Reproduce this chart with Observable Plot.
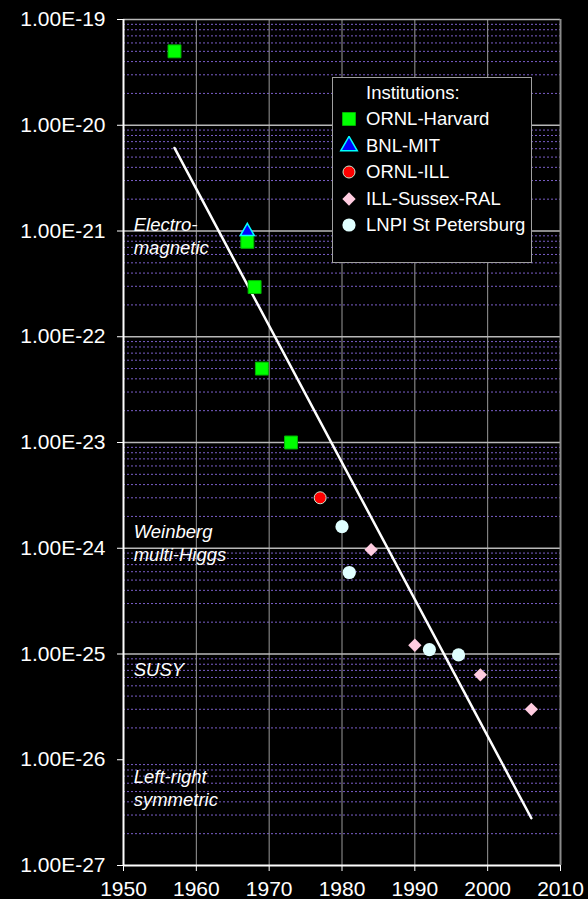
<!DOCTYPE html>
<html><head><meta charset="utf-8">
<script src="https://cdn.jsdelivr.net/npm/d3@7"></script>
<script src="https://cdn.jsdelivr.net/npm/@observablehq/plot@0.6"></script>
<style>
html,body{margin:0;padding:0;background:#000;}
#wrap{position:relative;width:588px;height:899px;background:#000;font-family:"Liberation Sans",Arial,Helvetica,sans-serif;}
#legend{position:absolute;left:332px;top:77px;width:200px;height:186px;border:1.5px solid #a0a0a0;background:#000;box-sizing:border-box;color:#fff;font-size:18.5px;}
#legend .row{position:absolute;left:0;height:26px;line-height:26px;white-space:nowrap;}
#legend .row svg{position:absolute;left:6px;top:3px;}
#legend .row span{position:absolute;left:33px;top:0;}
</style>
</head><body>
<div id="wrap"><div id="chart"></div><div id="legend"></div></div>
<script>
// ---- data ----
const xTicks = [1950, 1960, 1970, 1980, 1990, 2000, 2010];
const yTicks = [1e-19, 1e-20, 1e-21, 1e-22, 1e-23, 1e-24, 1e-25, 1e-26, 1e-27];
const yGridMajor = [1e-19, 1e-20, 1e-21, 1e-22, 1e-23, 1e-24, 1e-25];

const ornlHarvardYears = [1957, 1967, 1968, 1969, 1973];
const ornlHarvardValues = [5.0e-20, 7.9e-22, 2.95e-22, 5.0e-23, 1.0e-23];

const bnlMitYears = [1967];
const bnlMitValues = [9.9e-22];

const ornlIllYears = [1977];
const ornlIllValues = [3.0e-24];

const illSussexYears = [1984, 1990, 1999, 2006];
const illSussexValues = [9.7e-25, 1.21e-25, 6.35e-26, 3.0e-26];

const lnpiYears = [1980, 1981, 1992, 1996];
const lnpiValues = [1.6e-24, 5.9e-25, 1.1e-25, 9.8e-26];

const trendYears = [1957, 2006];
const trendValues = [6.1e-21, 2.8e-27];

const noteTexts = ["Electro-\nmagnetic", "Weinberg\nmulti-Higgs", "SUSY", "Left-right\nsymmetric"];
const noteYears = [1951.4, 1951.4, 1951.4, 1951.4];
const noteValues = [9.1e-22, 1.15e-24, 7.2e-26, 5.55e-27];

const legendTitle = "Institutions:";
const seriesNames = ["ORNL-Harvard", "BNL-MIT", "ORNL-ILL", "ILL-Sussex-RAL", "LNPI St Petersburg"];

// ---- helpers ----
const minorGrid = [];
for (let e = -27; e < -19; e++) for (let k = 2; k <= 9; k++) minorGrid.push(k * Math.pow(10, e));

const diamond = {draw(ctx, size) { const r = Math.sqrt(size) * 0.62625; ctx.moveTo(0, -r); ctx.lineTo(r, 0); ctx.lineTo(0, r); ctx.lineTo(-r, 0); ctx.closePath(); }};

const styles = [
  {symbol: "square", r: 7.3, fill: "#00ff00", stroke: "#00b400", strokeWidth: 1},
  {symbol: "triangle", r: 5.2, fill: "#0000ff", stroke: "#00ffff", strokeWidth: 1.5},
  {symbol: "circle", r: 6, fill: "#ff0000", stroke: "#cfe8cf", strokeWidth: 1},
  {symbol: diamond, r: 6, fill: "#ffcce0", stroke: "none", strokeWidth: 0},
  {symbol: "circle", r: 6.6, fill: "#e0ffff", stroke: "none", strokeWidth: 0}
];
const seriesData = [
  [ornlHarvardYears, ornlHarvardValues],
  [bnlMitYears, bnlMitValues],
  [ornlIllYears, ornlIllValues],
  [illSussexYears, illSussexValues],
  [lnpiYears, lnpiValues]
];
const pts = (ys, vs) => ys.map((y, i) => ({year: y, value: vs[i]}));

const fmt = d => "1.00E" + Math.round(Math.log10(d));

const chart = Plot.plot({
  width: 588, height: 899,
  marginLeft: 123, marginRight: 28, marginTop: 19, marginBottom: 34,
  style: {background: "#000", color: "#fff", fontFamily: "Liberation Sans, Arial, sans-serif", fontSize: "21px"},
  x: {domain: [1950, 2010], ticks: xTicks, tickFormat: d => String(d), tickSize: 6, tickPadding: 10, label: null},
  y: {type: "log", domain: [1e-27, 1e-19], ticks: yTicks, tickFormat: fmt, tickSize: 6, tickPadding: 12, label: null},
  marks: [
    Plot.ruleY(minorGrid, {stroke: "#7a5ec8", strokeWidth: 1, strokeDasharray: "2,2"}),
    Plot.ruleX(xTicks.slice(1, -1), {stroke: "#9a9a9a", strokeWidth: 1}),
    Plot.ruleY(yGridMajor, {stroke: "#b8b8b8", strokeWidth: 1.5}),
    Plot.ruleX([2010], {stroke: "#8a8a8a", strokeWidth: 2}),
    Plot.ruleX([1950], {stroke: "#fff", strokeWidth: 2}),
    Plot.ruleY([1e-27], {stroke: "#fff", strokeWidth: 2}),
    Plot.line(pts(trendYears, trendValues), {x: "year", y: "value", stroke: "#fff", strokeWidth: 2.5}),
    Plot.text(noteTexts.map((t, i) => ({t, year: noteYears[i], value: noteValues[i]})), {
      x: "year", y: "value", text: "t", textAnchor: "start", lineAnchor: "middle",
      fontStyle: "italic", fontSize: 18.5, lineHeight: 1.25, fill: "#fff"
    }),
    ...seriesData.map(([ys, vs], i) => Plot.dot(pts(ys, vs), {x: "year", y: "value", ...styles[i]}))
  ]
});
document.getElementById("chart").appendChild(chart);

// ---- legend ----
const legend = document.getElementById("legend");
const title = document.createElement("div");
title.className = "row";
title.style.top = "2px";
title.innerHTML = `<span>${legendTitle}</span>`;
legend.appendChild(title);
const symMap = {square: d3.symbolSquare, triangle: d3.symbolTriangle, circle: d3.symbolCircle};
seriesNames.forEach((name, i) => {
  const s = styles[i];
  const sym = typeof s.symbol === "string" ? symMap[s.symbol] : s.symbol;
  const size = s.r * s.r * Math.PI * (i === 1 ? 1.4 : 1);
  const path = d3.symbol(sym, size)();
  const row = document.createElement("div");
  row.className = "row";
  row.style.top = (28 + i * 26.5) + "px";
  row.innerHTML = `<svg width="20" height="20" viewBox="-10 -10 20 20"><path d="${path}" fill="${s.fill}" stroke="${s.stroke}" stroke-width="${s.strokeWidth}"/></svg><span>${name}</span>`;
  legend.appendChild(row);
});
</script>
</body></html>
